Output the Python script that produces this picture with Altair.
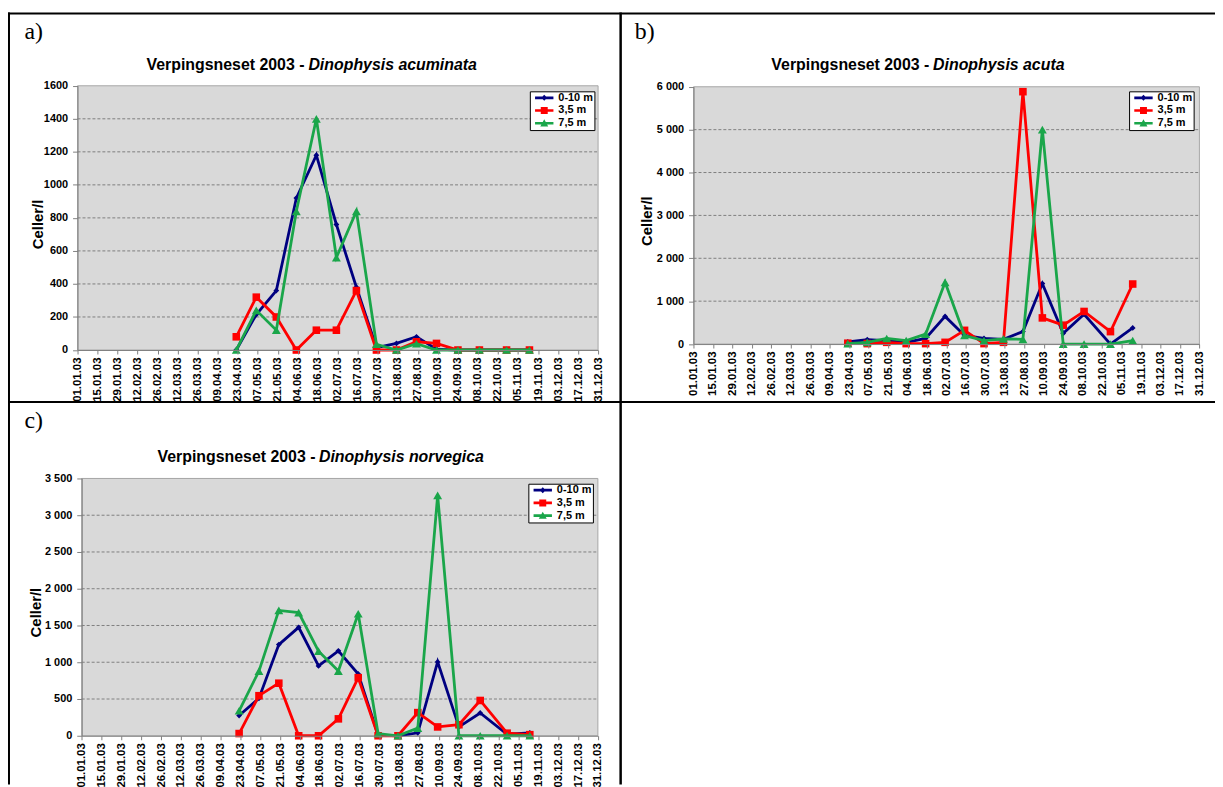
import altair as alt
import pandas as pd

# ---------------- data ----------------
tick_labels = ["01.01.03", "15.01.03", "29.01.03", "12.02.03", "26.02.03", "12.03.03",
               "26.03.03", "09.04.03", "23.04.03", "07.05.03", "21.05.03", "04.06.03",
               "18.06.03", "02.07.03", "16.07.03", "30.07.03", "13.08.03", "27.08.03",
               "10.09.03", "24.09.03", "08.10.03", "22.10.03", "05.11.03", "19.11.03",
               "03.12.03", "17.12.03", "31.12.03"]
sample_dates = ["22.04.03", "06.05.03", "20.05.03", "03.06.03", "17.06.03", "01.07.03",
                "15.07.03", "29.07.03", "12.08.03", "26.08.03", "09.09.03", "24.09.03",
                "09.10.03", "28.10.03", "13.11.03"]
series = ["0-10 m", "3,5 m", "7,5 m"]
colors = ["#000080", "#ff0000", "#1aa64a"]
markers = ["diamond", "square", "triangle-up"]
marker_sizes = [34, 58, 80]

# a) Dinophysis acuminata
a_0_10 = [0, 215, 360, 920, 1180, 760, 380, 15, 40, 80, 5, 0, 0, 0, 0]
a_3_5 = [80, 320, 200, 0, 120, 120, 360, 0, 0, 50, 40, 0, 0, 0, 0]
a_7_5 = [0, 240, 120, 840, 1400, 560, 840, 35, 0, 38, 0, 0, 0, 0, 0]
# b) Dinophysis acuta
b_0_10 = [50, 100, 80, 40, 130, 645, 200, 130, 110, 290, 1410, 250, 695, 0, 375]
b_3_5 = [20, 10, 40, 10, 10, 40, 320, 10, 40, 5885, 610, 440, 760, 290, 1400]
b_7_5 = [10, 40, 130, 80, 230, 1440, 200, 80, 120, 110, 5000, 0, 0, 0, 80]
# c) Dinophysis norvegica
c_0_10 = [275, 510, 1240, 1475, 950, 1155, 840, 10, 0, 40, 1005, 120, 310, 20, 40]
c_3_5 = [30, 545, 715, 0, 0, 230, 790, 0, 0, 315, 120, 150, 480, 35, 15]
c_7_5 = [340, 880, 1705, 1675, 1150, 880, 1660, 30, 0, 105, 3270, 0, 0, 0, 0]

titles_plain = "Verpingsneset 2003 -"
species = ["Dinophysis acuminata", "Dinophysis acuta", "Dinophysis norvegica"]
panel_letters = ["a)", "b)", "c)"]
y_title = "Celler/l"

# ---------------- styling ----------------
W, H = 1215, 779
FONT = "Liberation Sans"
SERIF = "Liberation Serif"
AX = "#808080"


def iso(s):
    d, m, y = s.split(".")
    return f"20{y}-{m}-{d}T00:00:00"


def dt(s):
    d, m, y = s.split(".")
    return alt.DateTime(year=2000 + int(y), month=int(m), date=int(d))


# legend glyphs: a short line with the series marker on it
SYM_LINE = "M-1.85,-0.27H1.85V0.27H-1.85Z "
legend_glyphs = [SYM_LINE + "M0,-0.6L0.6,0L0,0.6L-0.6,0Z",
                 SYM_LINE + "M-0.7,-0.7H0.7V0.7H-0.7Z",
                 SYM_LINE + "M0,-0.8L0.8,0.65L-0.8,0.65Z"]


def panel(vals, ymax, ystep, xr, yr, lxy, thousands):
    rows = []
    for name, v in zip(series, vals):
        for d, val in zip(sample_dates, v):
            rows.append({"date": iso(d), "series": name, "value": val})
    df = pd.DataFrame(rows)

    xsc = alt.Scale(domain=[dt(tick_labels[0]), dt(tick_labels[-1])], range=list(xr))
    ysc = alt.Scale(domain=[0, ymax], range=[yr[0], yr[1]], nice=False, zero=False)
    yvals = list(range(0, ymax + 1, ystep))

    xax = alt.Axis(orient="bottom", offset=yr[0] - H, values=[dt(t) for t in tick_labels],
                   format="%d.%m.%y", labelAngle=270, labelFont=FONT, labelFontSize=11.5,
                   labelFontWeight="bold", labelColor="black", labelPadding=3,
                   tickSize=4, tickColor=AX, domainColor=AX, domainWidth=1, grid=False,
                   title=None, labelOverlap=False, labelFlush=False, labelBound=False,
                   zindex=1)
    ykw = dict(orient="left", offset=-xr[0], values=yvals, labelFont=FONT, labelFontSize=11,
               labelFontWeight="bold", labelColor="black", labelPadding=5, tickSize=5,
               tickColor=AX, domainColor=AX, domainWidth=1, grid=False, title=None,
               labelOverlap=False, labelFlush=False, zindex=1)
    if thousands:
        ykw["format"] = ",d"
        ykw["labelExpr"] = "replace(datum.label, ',', ' ')"
    else:
        ykw["format"] = "d"
    yax = alt.Axis(**ykw)

    X = lambda f: alt.X(f, scale=xsc, axis=xax)
    Y = lambda f: alt.Y(f, scale=ysc, axis=yax)

    # legend-only proxy entries (placed far outside the drawing)
    leg = alt.Legend(orient="none", legendX=lxy[0], legendY=lxy[1], direction="vertical",
                     title=None, fillColor="white", strokeColor="black", padding=1,
                     rowPadding=0.8, symbolSize=100, symbolOffset=8, labelOffset=8.7,
                     labelFont=FONT, labelFontSize=11, labelFontWeight="bold",
                     labelColor="black", symbolOpacity=1, symbolStrokeWidth=0)
    csc = alt.Scale(domain=series, range=colors)
    pdf = pd.DataFrame({"series": series, "date": iso(sample_dates[0]), "value": -20 * ymax})
    proxy = alt.Chart(pdf).mark_point(filled=True, opacity=1, size=100).encode(
        x=X("date:T"), y=Y("value:Q"),
        color=alt.Color("series:N", scale=csc, legend=leg),
        shape=alt.Shape("series:N", scale=alt.Scale(domain=series, range=legend_glyphs),
                        legend=leg))

    bgdf = pd.DataFrame({"x0": [iso(tick_labels[0])], "x1": [iso(tick_labels[-1])],
                         "y0": [0], "y1": [ymax]})
    bg = alt.Chart(bgdf).mark_rect(fill="#d9d9d9", stroke="#a6a6a6", strokeWidth=1).encode(
        x=X("x0:T"), x2="x1:T", y=Y("y0:Q"), y2="y1:Q")

    gdf = pd.DataFrame({"gy": yvals[1:-1]})
    gdf["x0"] = iso(tick_labels[0])
    gdf["x1"] = iso(tick_labels[-1])
    grid = alt.Chart(gdf).mark_rule(stroke="#7f7f7f", strokeWidth=1, strokeDash=[3, 2]).encode(
        x=X("x0:T"), x2="x1:T", y=Y("gy:Q"))

    lines, pts = [], []
    for name, col, mk, sz in zip(series, colors, markers, marker_sizes):
        sub = df[df["series"] == name]
        lines.append(alt.Chart(sub).mark_line(strokeWidth=2.8, color=col).encode(
            x=X("date:T"), y=Y("value:Q")))
        pts.append(alt.Chart(sub).mark_point(
            filled=True, opacity=1, color=col, shape=mk, size=sz).encode(
            x=X("date:T"), y=Y("value:Q")))
    layers = [proxy, bg, grid]
    for ln, pt in zip(lines, pts):
        layers += [ln, pt]
    return alt.layer(*layers)


pa = panel([a_0_10, a_3_5, a_7_5], 1600, 200, (70, 594), (341.7, 75.7), (525.3, 81.3), False)
pb = panel([b_0_10, b_3_5, b_7_5], 6000, 1000, (690.1, 1199.3), (335.7, 76.7), (1128.5, 81.3), True)
pc = panel([c_0_10, c_3_5, c_7_5], 3500, 500, (74.2, 593.8), (730, 471), (523.8, 476.3), True)

one = pd.DataFrame({"k": [0]})


def txt(text, x, y, size, font=FONT, bold=True, italic=False, align="left", angle=0):
    kw = dict(text=text, font=font, fontSize=size, align=align, baseline="alphabetic",
              color="black", fontWeight="bold" if bold else "normal")
    if italic:
        kw["fontStyle"] = "italic"
    if angle:
        kw["angle"] = angle
    return alt.Chart(one).mark_text(**kw).encode(x=alt.value(x), y=alt.value(y))


decos = []
# titles
for (xe, xi, yb), sp in zip([(298.4, 302.4, 59.7), (927.4, 931.2, 59.7), (309.5, 313, 454.7)], species):
    decos.append(txt(titles_plain, xe, yb, 16, align="right"))
    decos.append(txt(sp, xi, yb, 16, italic=True, align="left"))
# panel letters
for (x, y), lab in zip([(16.5, 28.7), (631, 28.7), (16.5, 420.3)], panel_letters):
    decos.append(txt(lab, x, y, 24, font=SERIF, bold=False))
# y titles
for x, y in [(35.5, 215.3), (648.5, 212), (33.5, 606)]:
    decos.append(txt(y_title, x, y, 15, align="center", angle=270))

# table borders
decos.append(alt.Chart(one).mark_rule(color="black", strokeWidth=2).encode(
    x=alt.value(0), x2=alt.value(W), y=alt.value(3)))
decos.append(alt.Chart(one).mark_rule(color="black", strokeWidth=2).encode(
    x=alt.value(0), x2=alt.value(W), y=alt.value(394)))
decos.append(alt.Chart(one).mark_rule(color="black", strokeWidth=2).encode(
    x=alt.value(1), y=alt.value(2), y2=alt.value(H)))
decos.append(alt.Chart(one).mark_rule(color="black", strokeWidth=2.5).encode(
    x=alt.value(616.7), y=alt.value(2), y2=alt.value(H)))

chart = alt.layer(pa, pb, pc, *decos).resolve_scale(
    x="independent", y="independent", color="independent", shape="independent"
).properties(
    width=W, height=H, autosize=alt.AutoSizeParams(type="none"), padding=0
).configure_view(strokeWidth=0)

chart.save("out.html", embed_options={"renderer": "svg", "actions": False})
